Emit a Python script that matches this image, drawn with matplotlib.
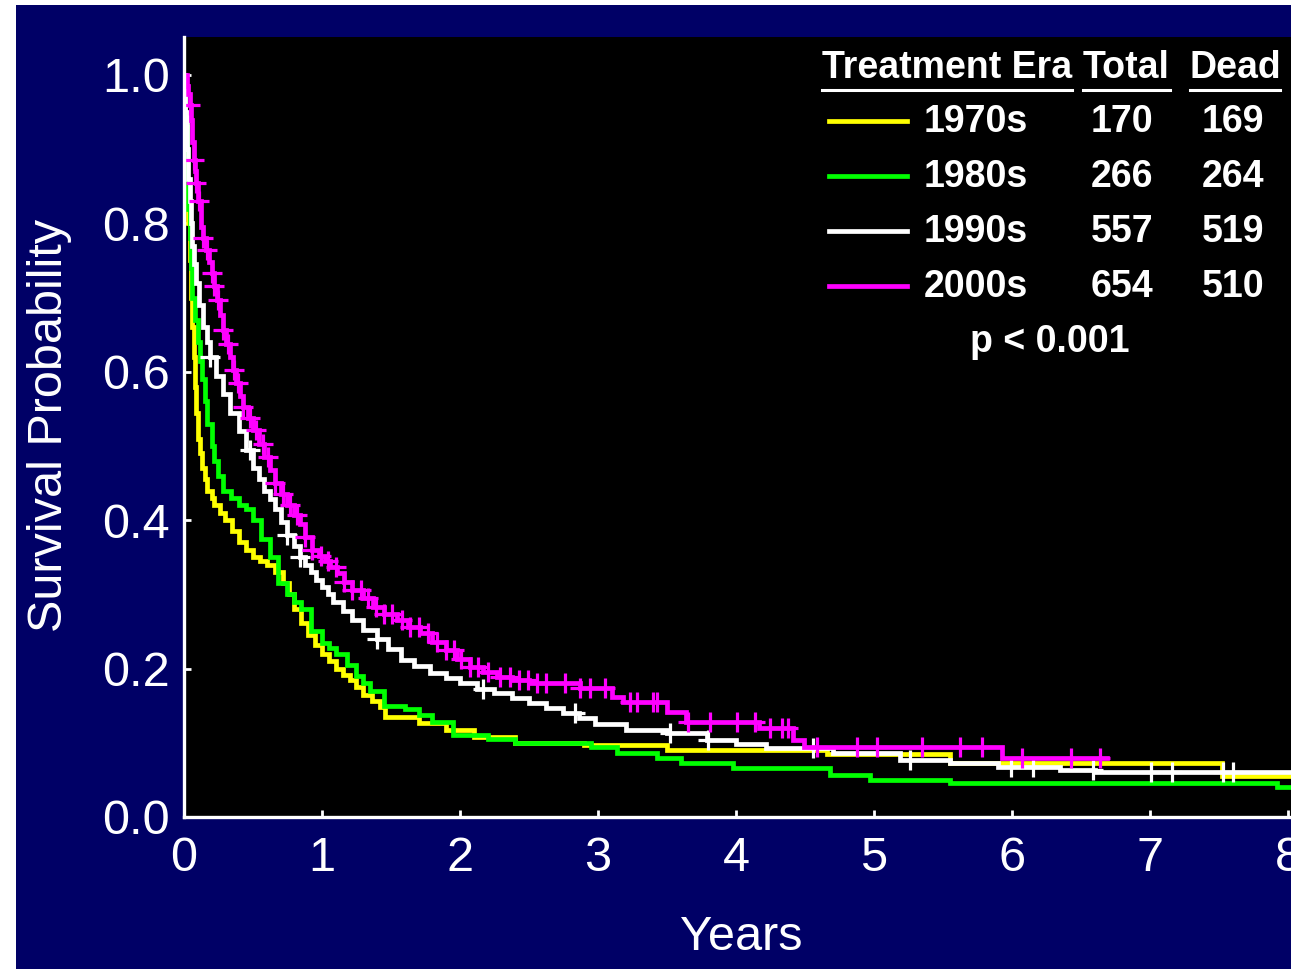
import matplotlib
matplotlib.use("Agg")
import matplotlib.pyplot as plt
from matplotlib.lines import Line2D
from matplotlib.patches import Rectangle
import numpy as np

# Kaplan-Meier step curves (years, survival)
eras = ['1970s', '1980s', '1990s', '2000s']
totals = [170, 266, 557, 654]
deaths = [169, 264, 519, 510]
colors = ['#ffff00', '#00ff00', '#ffffff', '#ff00ff']
end_year = [8.03, 8.03, 8.03, 6.69]

t_1970 = [0, 0.01, 0.02, 0.03, 0.04, 0.05, 0.06, 0.07, 0.08, 0.09,
          0.1, 0.115, 0.13, 0.15, 0.17, 0.2, 0.22, 0.26, 0.3, 0.35,
          0.4, 0.45, 0.5, 0.55, 0.6, 0.66, 0.72, 0.76, 0.8, 0.85,
          0.9, 0.95, 1.0, 1.05, 1.1, 1.15, 1.2, 1.25, 1.3, 1.36,
          1.42, 1.46, 1.7, 1.9, 2.1, 2.4, 2.9, 3.5, 4.66, 5.55,
          7.52]
s_1970 = [1.0, 0.93, 0.86, 0.8, 0.75, 0.7, 0.66, 0.62, 0.58, 0.545,
          0.51, 0.49, 0.47, 0.455, 0.44, 0.43, 0.42, 0.41, 0.40, 0.385,
          0.37, 0.36, 0.35, 0.345, 0.34, 0.33, 0.315, 0.3, 0.28, 0.262,
          0.245, 0.232, 0.22, 0.21, 0.2, 0.192, 0.185, 0.175, 0.165, 0.156,
          0.148, 0.135, 0.127, 0.117, 0.108, 0.1, 0.097, 0.09, 0.085, 0.073,
          0.055]

t_1980 = [0, 0.01, 0.02, 0.03, 0.04, 0.05, 0.06, 0.08, 0.1, 0.115,
          0.13, 0.15, 0.17, 0.2, 0.22, 0.25, 0.28, 0.34, 0.4, 0.45,
          0.5, 0.56, 0.62, 0.68, 0.75, 0.8, 0.85, 0.92, 1.0, 1.05,
          1.1, 1.18, 1.25, 1.3, 1.35, 1.45, 1.6, 1.7, 1.8, 1.95,
          2.2, 2.4, 2.95, 3.14, 3.43, 3.6, 3.98, 4.68, 4.97, 5.55,
          7.92]
s_1980 = [1.0, 0.93, 0.86, 0.82, 0.78, 0.74, 0.7, 0.67, 0.64, 0.615,
          0.59, 0.56, 0.53, 0.5, 0.48, 0.46, 0.44, 0.43, 0.42, 0.415,
          0.4, 0.375, 0.35, 0.315, 0.3, 0.29, 0.28, 0.25, 0.235, 0.228,
          0.22, 0.205, 0.19, 0.18, 0.17, 0.15, 0.145, 0.138, 0.128, 0.11,
          0.105, 0.1, 0.094, 0.086, 0.08, 0.073, 0.066, 0.057, 0.05, 0.046,
          0.04]

t_1990 = [0, 0.01, 0.02, 0.03, 0.04, 0.05, 0.06, 0.075, 0.09, 0.11,
          0.14, 0.165, 0.19, 0.23, 0.28, 0.33, 0.4, 0.45, 0.5, 0.54,
          0.58, 0.62, 0.66, 0.7, 0.75, 0.8, 0.84, 0.88, 0.92, 0.96,
          1.0, 1.04, 1.08, 1.15, 1.22, 1.3, 1.4, 1.48, 1.57, 1.67,
          1.78, 1.9, 2.0, 2.12, 2.25, 2.38, 2.5, 2.62, 2.75, 2.86,
          2.98, 3.2, 3.5, 3.79, 4.0, 4.22, 4.7, 5.19, 5.55, 5.9,
          6.35, 6.6]
s_1990 = [1.0, 0.95, 0.9, 0.86, 0.83, 0.8, 0.77, 0.745, 0.72, 0.69,
          0.66, 0.64, 0.62, 0.595, 0.57, 0.545, 0.52, 0.495, 0.47, 0.455,
          0.44, 0.428, 0.415, 0.398, 0.38, 0.365, 0.35, 0.34, 0.33, 0.32,
          0.31, 0.3, 0.29, 0.278, 0.265, 0.252, 0.24, 0.226, 0.212, 0.203,
          0.194, 0.187, 0.18, 0.173, 0.167, 0.16, 0.154, 0.147, 0.14, 0.133,
          0.125, 0.117, 0.113, 0.104, 0.098, 0.093, 0.086, 0.077, 0.073, 0.067,
          0.063, 0.06]

t_2000 = [0, 0.02, 0.03, 0.04, 0.05, 0.06, 0.07, 0.08, 0.09, 0.105,
          0.12, 0.14, 0.16, 0.18, 0.2, 0.22, 0.24, 0.26, 0.28, 0.305,
          0.33, 0.355, 0.38, 0.405, 0.43, 0.465, 0.5, 0.54, 0.58, 0.62,
          0.66, 0.7, 0.75, 0.8, 0.84, 0.88, 0.93, 0.98, 1.02, 1.06,
          1.11, 1.16, 1.22, 1.3, 1.37, 1.45, 1.54, 1.62, 1.71, 1.8,
          1.9, 1.98, 2.07, 2.17, 2.27, 2.38, 2.5, 2.87, 3.1, 3.18,
          3.5, 3.64, 4.17, 4.41, 4.49, 5.93]
s_2000 = [1.0, 0.985, 0.975, 0.96, 0.94, 0.91, 0.885, 0.87, 0.855, 0.83,
          0.795, 0.78, 0.764, 0.748, 0.733, 0.715, 0.697, 0.676, 0.656, 0.638,
          0.62, 0.603, 0.585, 0.568, 0.553, 0.538, 0.522, 0.503, 0.485, 0.467,
          0.45, 0.435, 0.42, 0.407, 0.395, 0.378, 0.36, 0.352, 0.345, 0.337,
          0.329, 0.317, 0.306, 0.295, 0.283, 0.274, 0.265, 0.256, 0.248, 0.236,
          0.225, 0.213, 0.202, 0.195, 0.189, 0.185, 0.18, 0.174, 0.162, 0.155,
          0.141, 0.128, 0.12, 0.104, 0.094, 0.08]

# censored observations (years)
cens_1970 = []
cens_1980 = []
cens_1990 = [0.19, 0.48, 0.75, 0.84, 1.4, 2.17, 2.83, 3.52, 3.8, 4.56, 5.26, 5.99, 6.15,
             6.59, 7.01, 7.16, 7.53, 7.6]
cens_2000 = [0.04, 0.07, 0.09, 0.11, 0.14, 0.17, 0.2, 0.22, 0.25, 0.28, 0.32, 0.36, 0.39,
             0.43, 0.48, 0.52, 0.57, 0.61, 0.66, 0.72, 0.77, 0.82, 0.88, 0.93, 0.99, 1.04,
             1.1, 1.16, 1.22, 1.28, 1.33, 1.39, 1.45, 1.51, 1.58, 1.64, 1.7, 1.77, 1.83,
             1.9, 1.96, 2.01, 2.07, 2.13, 2.2, 2.29, 2.36, 2.43, 2.49, 2.56, 2.62, 2.76,
             2.87, 2.94, 3.05, 3.23, 3.28, 3.4, 3.43, 3.65, 3.81, 4.01, 4.14, 4.25, 4.33,
             4.38, 4.59, 4.88, 5.02, 5.35, 5.62, 5.78, 6.07, 6.43, 6.64]

times = [t_1970, t_1980, t_1990, t_2000]
survs = [s_1970, s_1980, s_1990, s_2000]
censors = [cens_1970, cens_1980, cens_1990, cens_2000]

navy = '#000066'
W, H = 1291, 969

fig = plt.figure(figsize=(W / 100, H / 100), dpi=100, facecolor='white')
# navy slide background
fig.add_artist(Rectangle((16 / W, 0), 1 - 16 / W, 1 - 5 / H, transform=fig.transFigure,
                         facecolor=navy, edgecolor='none', zorder=0))

ax = fig.add_axes([184 / W, 1 - 817 / H, (W - 184) / W, (817 - 37) / H])
ax.set_facecolor('black')
ax.set_xlim(0, 8.022)
ax.set_ylim(0, 1.0512)

for t, s, c, tend, cens in zip(times, survs, colors, end_year, censors):
    tt = list(t) + [tend]
    ss = list(s) + [s[-1]]
    ax.step(tt, ss, where='post', color=c, lw=3.4, solid_joinstyle='miter')
    if cens:
        idx = np.searchsorted(t, cens, side='right') - 1
        cy = np.array(s)[idx]
        ax.plot(cens, cy, linestyle='none', marker='+', markersize=14,
                markeredgewidth=2.3, color=c)

for side in ['top', 'right']:
    ax.spines[side].set_visible(False)
for side in ['left', 'bottom']:
    ax.spines[side].set_color('white')
    ax.spines[side].set_linewidth(2.4)

ax.set_xticks(range(0, 9))
ax.set_yticks([0.0, 0.2, 0.4, 0.6, 0.8, 1.0])
ax.set_yticklabels(['0.0', '0.2', '0.4', '0.6', '0.8', '1.0'])
ax.tick_params(direction='in', length=5, width=2, color='white', labelcolor='white',
               labelsize=35)
ax.tick_params(axis='x', pad=14)
ax.tick_params(axis='y', pad=10)
for lab in ax.get_xticklabels() + ax.get_yticklabels():
    lab.set_family('Liberation Sans')

fig.text(50 / W, 1 - 425 / H, 'Survival Probability', rotation=90, color='white',
         fontsize=35, family='Liberation Sans', ha='center', va='center')
fig.text(741 / W, 1 - 938 / H, 'Years', color='white', fontsize=35,
         family='Liberation Sans', ha='center', va='center')

# legend table
lfont = dict(color='white', fontsize=27, fontweight='bold', family='Liberation Sans')
fig.text(822 / W, 1 - 68 / H, 'Treatment Era', ha='left', va='center', **lfont)
fig.text(1126 / W, 1 - 68 / H, 'Total', ha='center', va='center', **lfont)
fig.text(1235 / W, 1 - 68 / H, 'Dead', ha='center', va='center', **lfont)
for x0, x1 in [(822, 1072), (1083, 1170), (1190, 1280)]:
    fig.add_artist(Line2D([x0 / W, x1 / W], [1 - 90 / H, 1 - 90 / H], color='white',
                          lw=2.2, transform=fig.transFigure))

row_y = [122, 177, 232, 287]
for era, tot, dead, c, ry in zip(eras, totals, deaths, colors, row_y):
    fig.add_artist(Line2D([829 / W, 907 / W], [1 - (ry - 1) / H, 1 - (ry - 1) / H], color=c,
                          lw=3.4, transform=fig.transFigure))
    fig.text(924 / W, 1 - ry / H, era, ha='left', va='center', **lfont)
    fig.text(1122 / W, 1 - ry / H, str(tot), ha='center', va='center', **lfont)
    fig.text(1233 / W, 1 - ry / H, str(dead), ha='center', va='center', **lfont)

fig.text(1050 / W, 1 - 342 / H, 'p < 0.001', ha='center', va='center', **lfont)

fig.savefig('out.png', dpi=100, facecolor='white')
